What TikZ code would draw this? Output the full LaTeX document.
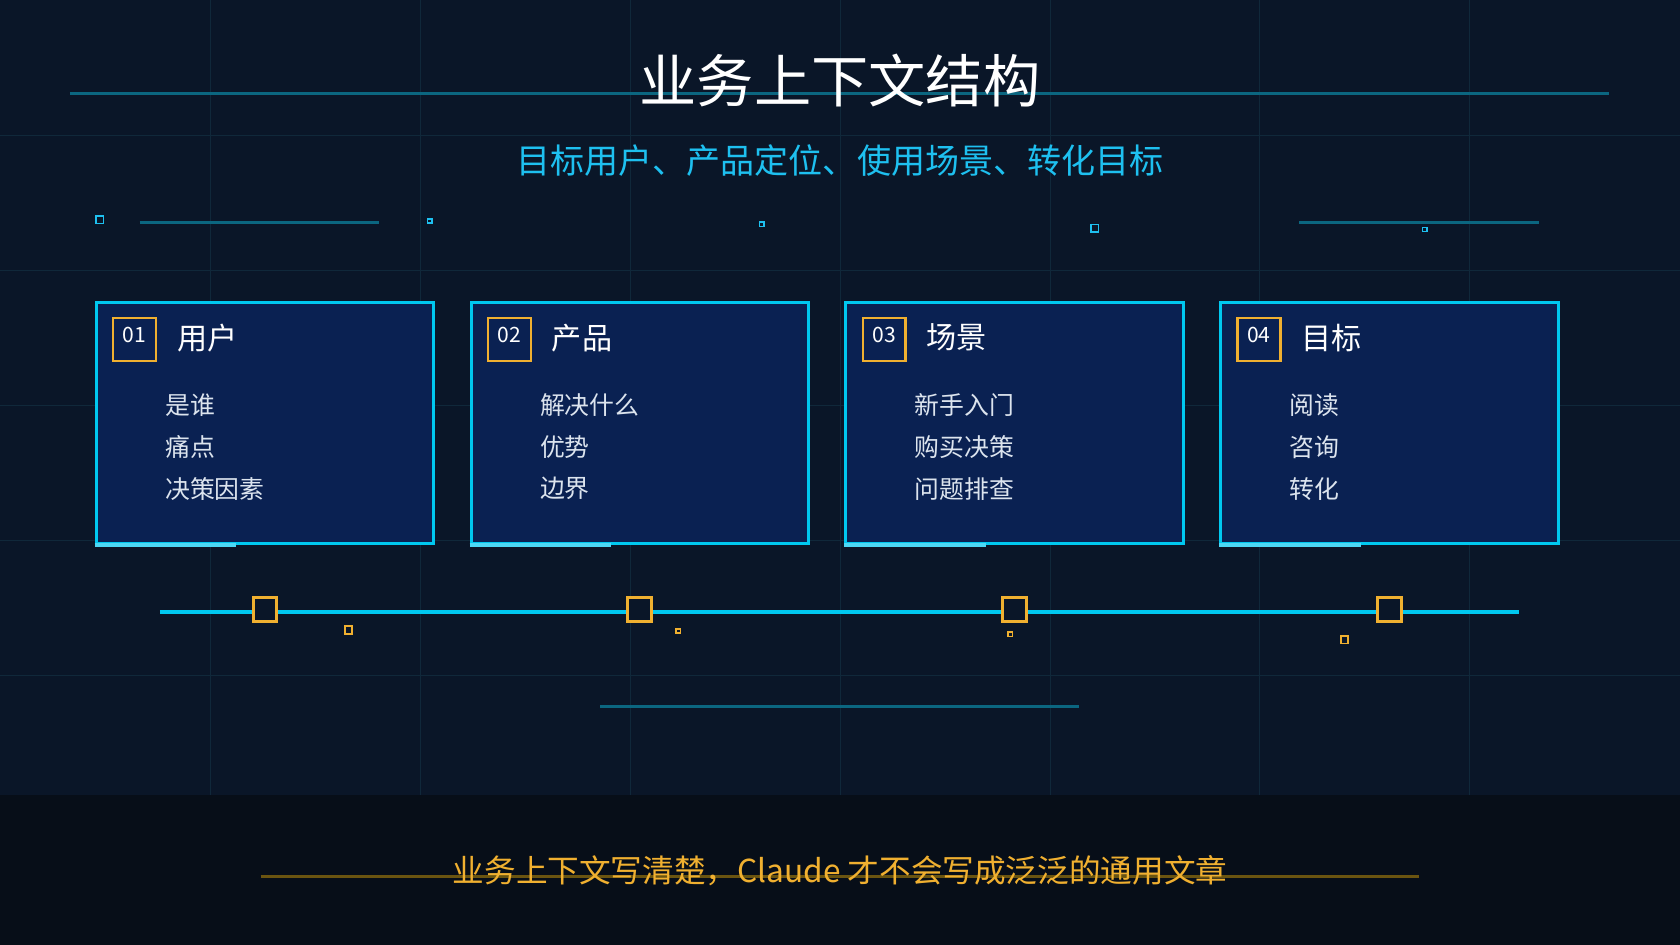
\documentclass[tikz,border=0pt]{standalone}
\usepackage{fontspec}
\setmainfont{Noto Sans CJK SC}
\usetikzlibrary{positioning}
\definecolor{bgtop}{HTML}{0A1628}
\definecolor{bgbot}{HTML}{070E18}
\definecolor{gridc}{HTML}{10283A}
\definecolor{teal}{HTML}{0B6680}
\definecolor{cyanc}{HTML}{00C8F0}
\definecolor{subc}{HTML}{1EC0F0}
\definecolor{cardc}{HTML}{0A2152}
\definecolor{orangec}{HTML}{F0B030}
\definecolor{goldline}{HTML}{6A5410}
\definecolor{itemc}{HTML}{DCE4EE}
\begin{document}
\begin{tikzpicture}[x=0.025cm,y=-0.025cm]
\tikzset{
  card/.style = {draw=cyanc, line width=2pt, fill=cardc, minimum width=315*0.025cm, minimum height=225*0.025cm, inner sep=0pt},
  numbox/.style = {draw=orangec, line width=1.6pt, minimum size=40*0.025cm, inner sep=0pt, anchor=north west},
  numtxt/.style = {text=white, font=\fontsize{14}{14}\selectfont},
  head/.style = {text=white, font=\fontsize{20}{20}\selectfont, anchor=west},
  item/.style = {text=itemc, font=\fontsize{16.5}{16.5}\selectfont, anchor=west},
  dot/.style = {draw=orangec, line width=1.2pt, minimum size=#1, inner sep=0pt},
  sq/.style = {draw=subc, line width=1pt, minimum size=#1, inner sep=0pt}
}
% background
\fill[bgtop] (0,0) rectangle (1568,742);
\fill[bgbot] (0,742) rectangle (1568,882);
\foreach \gx in {196,392,...,1372} \draw[gridc, line width=0.5pt] (\gx,0) -- (\gx,742);
\foreach \gy in {126,252,378,504,630} \draw[gridc, line width=0.5pt] (0,\gy) -- (1568,\gy);

% title
\coordinate (tl) at (65,87);
\coordinate (tr) at (1502,87);
\draw[teal, line width=2pt] (tl) -- (tr);
\node[text=white, inner sep=0pt, font=\fontsize{38}{38}\selectfont] (title) at (784,75) {业务上下文结构};
\node[text=subc, font=\fontsize{22.6}{22.6}\selectfont] (subtitle) at (784,150) {目标用户、产品定位、使用场景、转化目标};

% decorations
\coordinate (d1a) at (130,207); \coordinate (d1b) at (354,207);
\coordinate (d2a) at (1213,207); \coordinate (d2b) at (1437,207);
\draw[teal, line width=2pt] (d1a) -- (d1b);
\draw[teal, line width=2pt] (d2a) -- (d2b);
\node[sq=7*0.025cm] (s1) at (93,205) {};
\node[sq=4*0.025cm] (s2) at (401,206) {};
\node[sq=4*0.025cm] (s3) at (711,209) {};
\node[sq=7*0.025cm] (s4) at (1022,213) {};
\node[sq=4*0.025cm] (s5) at (1330,214) {};

% cards
\foreach \i/\cx/\num/\hd/\a/\b/\c in {
  1/247/01/用户/是谁/痛点/决策因素,
  2/597/02/产品/解决什么/优势/边界,
  3/947/03/场景/新手入门/购买决策/问题排查,
  4/1297/04/目标/阅读/咨询/转化}{
  \node[card] (card\i) at (\cx,394.5) {};
  \draw[cyanc!70!white, line width=3pt] (card\i.south west) -- ++(132,0);
  \node[numbox] (nb\i) at ([xshift=16*0.025cm, yshift=-15*0.025cm]card\i.north west) {};
  \node[numtxt] at ([yshift=4*0.025cm]nb\i.center) {\num};
  \node[head] (hd\i) at (\cx-87,315) {\hd};
  \node[item] (ia\i) at (\cx-98,378) {\a};
  \node[item] (ib\i) at (\cx-98,417) {\b};
  \node[item] (ic\i) at (\cx-98,456) {\c};
}

% timeline
\coordinate (ta) at (149,571);
\coordinate (tb) at (1418,571);
\draw[cyanc, line width=3pt] (ta) -- (tb);
\foreach \i/\cx in {1/247,2/597,3/947,4/1297}
  \node[dot=22*0.025cm, line width=2pt, fill=bgtop] (m\i) at (\cx,569) {};
\node[dot=7*0.025cm] (o1) at (325,588) {};
\node[dot=4*0.025cm] (o2) at (633,589) {};
\node[dot=4*0.025cm] (o3) at (943,592) {};
\node[dot=7*0.025cm] (o4) at (1255,597) {};
\coordinate (la) at (560,659); \coordinate (lb) at (1007,659);
\draw[teal, line width=2pt] (la) -- (lb);

% footer
\coordinate (fa) at (243,818); \coordinate (fb) at (1325,818);
\draw[goldline, line width=1.5pt] (fa) -- (fb);
\node[text=orangec, font=\fontsize{21}{21}\selectfont] (footer) at (784,813) {业务上下文写清楚，Claude 才不会写成泛泛的通用文章};
\end{tikzpicture}
\end{document}
